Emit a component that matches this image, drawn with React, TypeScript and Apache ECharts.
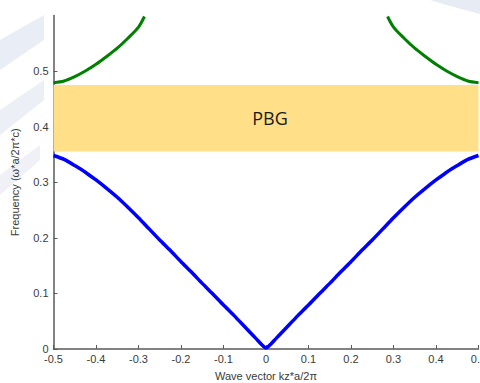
import React, { useEffect, useRef } from "react";
import * as echarts from "echarts";

// Wave vector kz*a/2π samples
const kLower: number[] = [
  -0.5, -0.475, -0.45, -0.425, -0.4, -0.375, -0.35, -0.325, -0.3, -0.275, -0.25,
  -0.225, -0.2, -0.175, -0.15, -0.125, -0.1, -0.075, -0.05, -0.025, 0,
  0.025, 0.05, 0.075, 0.1, 0.125, 0.15, 0.175, 0.2, 0.225, 0.25,
  0.275, 0.3, 0.325, 0.35, 0.375, 0.4, 0.425, 0.45, 0.475, 0.5,
];
// First band (blue)
const wLower: number[] = [
  0.348, 0.341, 0.33, 0.318, 0.304, 0.289, 0.273, 0.255, 0.236, 0.216, 0.196,
  0.177, 0.157, 0.138, 0.118, 0.099, 0.079, 0.06, 0.04, 0.02, 0.002,
  0.02, 0.04, 0.06, 0.079, 0.099, 0.118, 0.138, 0.157, 0.177, 0.196,
  0.216, 0.236, 0.255, 0.273, 0.289, 0.304, 0.318, 0.33, 0.341, 0.348,
];
// Second band (green), left and right branches
const kUpperLeft: number[] = [-0.5, -0.475, -0.45, -0.425, -0.4, -0.375, -0.35, -0.325, -0.3, -0.286];
const wUpperLeft: number[] = [0.479, 0.482, 0.49, 0.5, 0.512, 0.526, 0.541, 0.559, 0.579, 0.598];
const kUpperRight: number[] = [0.286, 0.3, 0.325, 0.35, 0.375, 0.4, 0.425, 0.45, 0.475, 0.5];
const wUpperRight: number[] = [0.598, 0.579, 0.559, 0.541, 0.526, 0.512, 0.5, 0.49, 0.482, 0.479];
// Photonic band gap
const gapRange: number[] = [0.355, 0.475];
const gapLabel = "PBG";
const yTicks: number[] = [0, 0.1, 0.2, 0.3, 0.4, 0.5];

export default function App() {
  const ref = useRef<HTMLDivElement>(null);
  useEffect(() => {
    if (!ref.current) return;
    const chart = echarts.init(ref.current, null, { renderer: "svg" });
    const zip = (a: number[], b: number[]) => a.map((v, i) => [v, b[i]]);
    const axisColor = "#5a5a5a";
    const labelColor = "#3a3a3a";
    chart.setOption({
      animation: false,
      backgroundColor: "#ffffff",
      graphic: [
        { type: "polygon", z: -10, shape: { points: [[0, 40], [44, 15], [44, 40], [0, 70]] }, style: { fill: "#e9edf5" } },
        { type: "polygon", z: -10, shape: { points: [[0, 110], [44, 80], [44, 100], [0, 135]] }, style: { fill: "#eceff6" } },
        { type: "polygon", z: -10, shape: { points: [[0, 175], [40, 145], [40, 160], [0, 195]] }, style: { fill: "#eff1f7" } },
        { type: "polygon", z: -10, shape: { points: [[430, 0], [480, 0], [480, 14], [450, 6]] }, style: { fill: "#e6ebf4" } },
      ],
      grid: { left: 53.5, right: 1.5, top: 15.4, bottom: 34, containLabel: false, outerBoundsMode: "none" },
      xAxis: {
        type: "value",
        min: -0.5,
        max: 0.5,
        interval: 0.1,
        name: "Wave vector kz*a/2π",
        nameLocation: "middle",
        nameGap: 21,
        nameTextStyle: { color: labelColor, fontSize: 11, fontFamily: "Liberation Sans, Arial" },
        axisLine: { show: true, onZero: false, lineStyle: { color: axisColor, width: 1.5 } },
        axisTick: { show: true, inside: true, length: 4, lineStyle: { color: axisColor } },
        axisLabel: {
          color: labelColor,
          fontSize: 11,
          fontFamily: "Liberation Sans, Arial",
          margin: 4,
          showMinLabel: true,
          showMaxLabel: true,
          hideOverlap: false,
          formatter: (v: number) => String(Math.round(v * 10) / 10),
        },
        splitLine: { show: false },
      },
      yAxis: {
        type: "value",
        min: 0,
        max: 0.6,
        interval: 0.1,
        name: "Frequency (ω*a/2π*c)",
        nameLocation: "middle",
        nameGap: 33,
        nameTextStyle: { color: labelColor, fontSize: 11, fontFamily: "Liberation Sans, Arial" },
        axisLine: { show: true, onZero: false, lineStyle: { color: axisColor, width: 1.5 } },
        axisTick: { show: true, inside: true, length: 4, customValues: yTicks, lineStyle: { color: axisColor } },
        axisLabel: {
          color: labelColor,
          fontSize: 11,
          fontFamily: "Liberation Sans, Arial",
          margin: 5,
          customValues: yTicks,
          formatter: (v: number) => String(Math.round(v * 10) / 10),
        },
        splitLine: { show: false },
      },
      series: [
        {
          type: "line",
          name: "gap",
          data: [],
          silent: true,
          markArea: {
            silent: true,
            itemStyle: { color: "#ffdf88", opacity: 1 },
            label: {
              show: true,
              position: "inside",
              color: "#1a1a1a",
              fontSize: 18,
              fontFamily: "Open Sans",
              offset: [4, 0],
            },
            data: [[{ yAxis: gapRange[0], name: gapLabel }, { yAxis: gapRange[1] }]],
          },
          z: 1,
        },
        {
          type: "line",
          data: zip(kLower, wLower),
          showSymbol: false,
          smooth: 0.2,
          lineStyle: { color: "#0000ff", width: 3.5 },
          z: 3,
        },
        {
          type: "line",
          data: zip(kUpperLeft, wUpperLeft),
          showSymbol: false,
          smooth: 0.3,
          lineStyle: { color: "#008000", width: 3 },
          z: 3,
        },
        {
          type: "line",
          data: zip(kUpperRight, wUpperRight),
          showSymbol: false,
          smooth: 0.3,
          lineStyle: { color: "#008000", width: 3 },
          z: 3,
        },
      ],
    });
    return () => chart.dispose();
  }, []);
  return (
    <div
      ref={ref}
      style={{ position: "fixed", left: 0, top: 0, width: 480, height: 383, background: "#fff" }}
    />
  );
}
